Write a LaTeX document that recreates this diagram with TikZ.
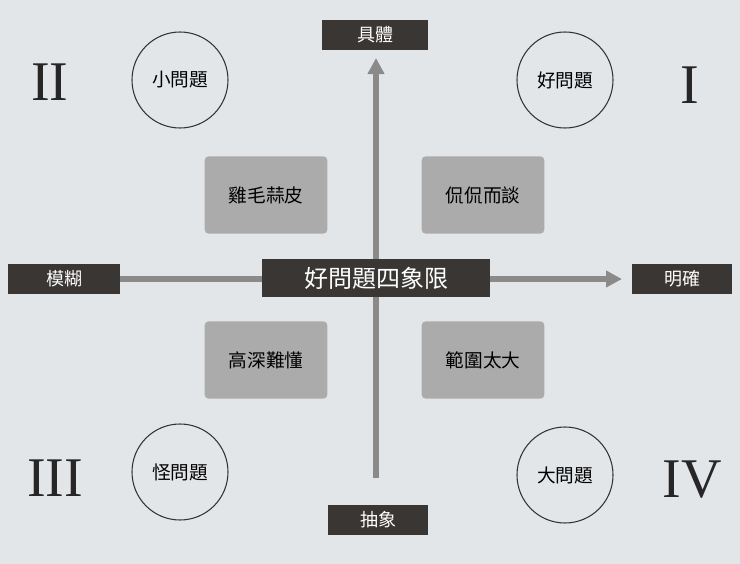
\documentclass[tikz,border=0pt]{standalone}
\usepackage{fontspec}
\newfontfamily\cjk{Noto Sans CJK TC}
\setmainfont{Liberation Serif}
\usetikzlibrary{arrows.meta}
\definecolor{bg}{HTML}{E3E6E9}
\definecolor{dark}{HTML}{3A3634}
\definecolor{gbox}{HTML}{ABABAB}
\definecolor{axis}{HTML}{8A8A8A}
\tikzset{x=0.75pt,y=-0.75pt,
 lab/.style={fill=dark,text=white,font=\cjk\fontsize{13.5}{13.5}\selectfont,minimum height=22pt,inner sep=0pt},
 circ/.style={circle,draw=black!80,line width=0.8pt,minimum size=72pt,font=\cjk\fontsize{14}{14}\selectfont},
 gb/.style={fill=gbox,rounded corners=3pt,minimum width=92pt,minimum height=58pt,font=\cjk\fontsize{14}{14}\selectfont},
 roman/.style={font=\fontsize{42}{42}\selectfont,text=black!85},
 ax/.style={draw=axis,line width=4pt,-{Triangle[length=12pt,width=12pt]}}}
\begin{document}
\begin{tikzpicture}
\fill[bg] (0,0) rectangle (740,564);
\useasboundingbox (0,0) rectangle (740,564);
\node[lab,minimum width=80pt] (top) at (375,35) {具體};
\node[lab,minimum width=75pt] (bot) at (378,520) {抽象};
\node[lab,minimum width=84pt] (left) at (64,279) {模糊};
\node[lab,minimum width=75pt] (right) at (682,279) {明確};
\coordinate (vs) at (376,478);
\coordinate (ve) at (376,58);
\coordinate (hs) at (120,279);
\coordinate (he) at (622,279);
\draw[ax] (vs) -- (ve);
\draw[ax] (hs) -- (he);
\node[lab,minimum width=171pt,minimum height=28pt,font=\cjk\fontsize{18}{18}\selectfont] (title) at (376,278) {好問題四象限};
\node[circ] (c1) at (180,80) {小問題};
\node[circ] (c2) at (565,80) {好問題};
\node[circ] (c3) at (180,472) {怪問題};
\node[circ] (c4) at (565,475) {大問題};
\node[roman] (r2) at (50,82) {II};
\node[roman] (r1) at (690,85) {I};
\node[roman] (r3) at (55,478) {III};
\node[roman] (r4) at (692,480) {IV};
\node[gb] (b1) at (266,195) {雞毛蒜皮};
\node[gb] (b2) at (483,195) {侃侃而談};
\node[gb] (b3) at (266,360) {高深難懂};
\node[gb] (b4) at (483,360) {範圍太大};
\end{tikzpicture}
\end{document}
